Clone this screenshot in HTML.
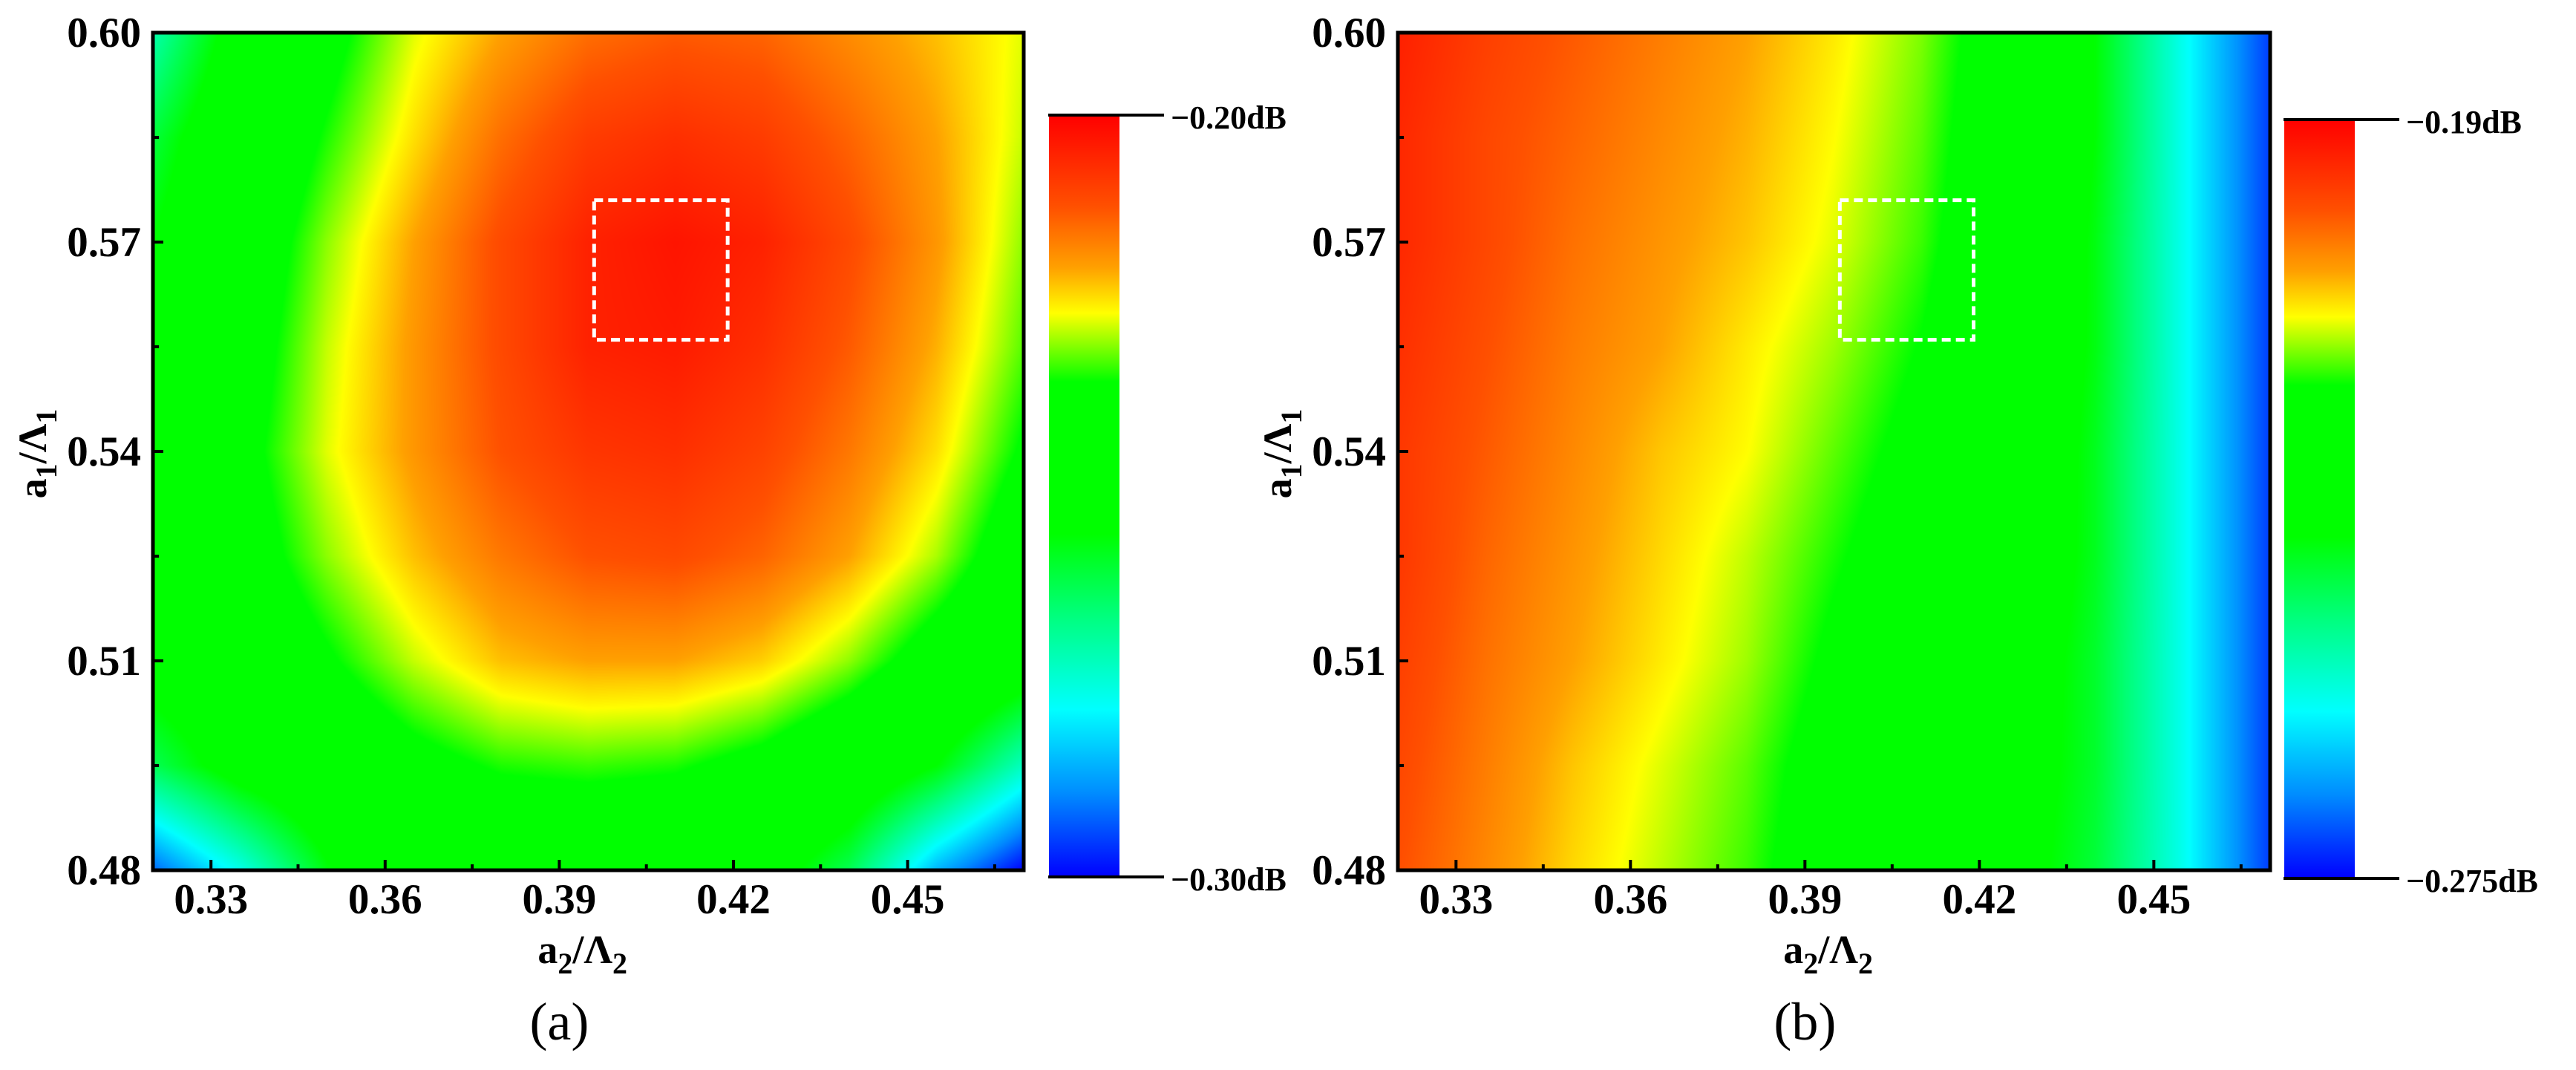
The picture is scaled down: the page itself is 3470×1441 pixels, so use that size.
<!DOCTYPE html>
<html><head><meta charset="utf-8">
<style>
html,body{margin:0;padding:0;background:#fff;}
body{width:3470px;height:1441px;position:relative;overflow:hidden;font-family:"Liberation Serif",serif;}
canvas{position:absolute;}
svg{position:absolute;left:0;top:0;}
</style></head>
<body>
<canvas id="hmA" width="1173" height="1128" style="left:206px;top:44px"></canvas>
<canvas id="hmB" width="1175" height="1128" style="left:1883px;top:44px"></canvas>
<svg id="ov" width="3470" height="1441"></svg>
<script>
// ---- data ----
const xCats = [0.32,0.335,0.35,0.365,0.38,0.395,0.41,0.425,0.44,0.455,0.47];
const yCats = [0.60,0.585,0.57,0.555,0.54,0.525,0.51,0.495,0.48];
const xTicks = [0.33,0.36,0.39,0.42,0.45];
const yTicks = [0.48,0.51,0.54,0.57,0.60];
const xTickLabels = ["0.33","0.36","0.39","0.42","0.45"];
const yTickLabels = ["0.48","0.51","0.54","0.57","0.60"];
// panel (a): loss in dB, range -0.30 .. -0.20
const rangeA = [-0.30,-0.20];
const valuesA = [
 [-0.270,-0.250,-0.238,-0.227,-0.220,-0.215,-0.213,-0.214,-0.218,-0.222,-0.227],
 [-0.260,-0.245,-0.234,-0.224,-0.215,-0.209,-0.207,-0.209,-0.214,-0.220,-0.228],
 [-0.255,-0.242,-0.230,-0.220,-0.211,-0.205,-0.203,-0.205,-0.211,-0.219,-0.230],
 [-0.250,-0.240,-0.228,-0.219,-0.211,-0.205,-0.204,-0.207,-0.213,-0.221,-0.232],
 [-0.247,-0.238,-0.227,-0.219,-0.212,-0.208,-0.207,-0.210,-0.216,-0.224,-0.236],
 [-0.247,-0.240,-0.230,-0.222,-0.216,-0.212,-0.211,-0.214,-0.220,-0.229,-0.242],
 [-0.250,-0.244,-0.236,-0.228,-0.222,-0.220,-0.220,-0.223,-0.230,-0.240,-0.248],
 [-0.262,-0.250,-0.244,-0.238,-0.234,-0.233,-0.234,-0.238,-0.245,-0.255,-0.272],
 [-0.292,-0.276,-0.256,-0.248,-0.245,-0.245,-0.246,-0.250,-0.262,-0.285,-0.300]
];
// panel (b): loss in dB, range -0.275 .. -0.19
const rangeB = [-0.275,-0.19];
const valuesB = [
 [-0.194,-0.198,-0.201,-0.204,-0.207,-0.211,-0.216,-0.224,-0.237,-0.255,-0.271],
 [-0.195,-0.199,-0.202,-0.205,-0.208,-0.212,-0.217,-0.225,-0.237,-0.255,-0.271],
 [-0.195,-0.199,-0.203,-0.206,-0.209,-0.213,-0.218,-0.226,-0.238,-0.255,-0.271],
 [-0.196,-0.200,-0.204,-0.207,-0.211,-0.215,-0.220,-0.227,-0.238,-0.255,-0.271],
 [-0.197,-0.201,-0.205,-0.209,-0.212,-0.217,-0.222,-0.228,-0.239,-0.255,-0.271],
 [-0.197,-0.202,-0.206,-0.210,-0.214,-0.219,-0.224,-0.229,-0.239,-0.255,-0.271],
 [-0.198,-0.203,-0.207,-0.211,-0.215,-0.221,-0.225,-0.231,-0.240,-0.255,-0.271],
 [-0.199,-0.204,-0.209,-0.213,-0.217,-0.223,-0.227,-0.232,-0.240,-0.255,-0.271],
 [-0.200,-0.205,-0.210,-0.214,-0.218,-0.224,-0.228,-0.233,-0.241,-0.255,-0.271]
];
const boxX = [0.396,0.419];
const boxY = [0.556,0.576];

// ---- colormap (style) ----
const stops = [[0,[255,0,0]],[0.12,[255,80,0]],[0.2,[255,160,0]],[0.26,[255,255,0]],[0.35,[0,255,0]],[0.55,[0,255,0]],[0.66,[0,255,128]],[0.78,[0,255,255]],[0.89,[0,140,255]],[1,[0,0,255]]];
function cmap(t){t=Math.max(0,Math.min(1,t));for(let i=1;i<stops.length;i++){if(t<=stops[i][0]){const a=stops[i-1],b=stops[i];const f=(t-a[0])/(b[0]-a[0]);return a[1].map((c,k)=>c+(b[1][k]-c)*f);}}return stops[stops.length-1][1];}

function drawHeat(id,vals,range){
 const cv=document.getElementById(id),ctx=cv.getContext('2d');const W=cv.width,H=cv.height;
 const img=ctx.createImageData(W,H);const nx=xCats.length,ny=yCats.length;
 const x0=xCats[0],x1=xCats[nx-1],y0=yCats[0],y1=yCats[ny-1];
 for(let py=0;py<H;py++){const yv=y0+(y1-y0)*py/(H-1);const fy=(yv-y0)/(y1-y0)*(ny-1);const j=Math.min(ny-2,Math.floor(fy)),v=fy-j;
  for(let px=0;px<W;px++){const xv=x0+(x1-x0)*px/(W-1);const fx=(xv-x0)/(x1-x0)*(nx-1);const i=Math.min(nx-2,Math.floor(fx)),u=fx-i;
   const val=(vals[j][i]*(1-u)+vals[j][i+1]*u)*(1-v)+(vals[j+1][i]*(1-u)+vals[j+1][i+1]*u)*v;
   const t=(range[1]-val)/(range[1]-range[0]);const c=cmap(t);const o=(py*W+px)*4;
   img.data[o]=c[0];img.data[o+1]=c[1];img.data[o+2]=c[2];img.data[o+3]=255;}}
 ctx.putImageData(img,0,0);
}
drawHeat('hmA',valuesA,rangeA);
drawHeat('hmB',valuesB,rangeB);

const NS='http://www.w3.org/2000/svg';const ov=document.getElementById('ov');
function mk(tag,attrs,parent){const e=document.createElementNS(NS,tag);for(const k in attrs)e.setAttribute(k,attrs[k]);(parent||ov).appendChild(e);return e;}

const defs=mk('defs',{});const lg=mk('linearGradient',{id:'cb',x1:0,y1:0,x2:0,y2:1},defs);
stops.forEach(s=>mk('stop',{offset:s[0],'stop-color':'rgb('+s[1].map(Math.round).join(',')+')'},lg));

function panel(p){
 const L=p.left,T=44,W=p.w,H=1128;
 const sx=v=>L+(v-0.32)/0.15*W, sy=v=>T+(0.60-v)/0.12*H;
 const g=mk('g',{});
 
 
 xTicks.forEach((v,i)=>{
  const t=mk('line',{x1:sx(v),x2:sx(v),y1:T+H,y2:T+H-14,stroke:'#000','stroke-width':4},g);
  
  
  const m=mk('line',{x1:sx(v+0.015),x2:sx(v+0.015),y1:T+H,y2:T+H-8,stroke:'#000','stroke-width':4},g);
  
  
  const lb=mk('text',{x:sx(v),y:1230,'text-anchor':'middle','font-size':57,'font-weight':'bold','font-family':'Liberation Serif, serif'},g);
  lb.textContent=xTickLabels[i];
  
  
 });
 yTicks.forEach((v,i)=>{
  const t=mk('line',{x1:L,x2:L+14,y1:sy(v),y2:sy(v),stroke:'#000','stroke-width':4},g);
  
  
  if(v<0.6){const m=mk('line',{x1:L,x2:L+8,y1:sy(v+0.015),y2:sy(v+0.015),stroke:'#000','stroke-width':4},g);
  
  }
  const lb=mk('text',{x:L-16,y:sy(v)+19,'text-anchor':'end','font-size':57,'font-weight':'bold','font-family':'Liberation Serif, serif'},g);
  lb.textContent=yTickLabels[i];
  
  
 });
 const fr=mk('rect',{x:L,y:T,width:W,height:H,fill:'none',stroke:'#000','stroke-width':5},g);
 
 
 const bx=mk('rect',{x:sx(boxX[0]),y:sy(boxY[1]),width:sx(boxX[1])-sx(boxX[0]),height:sy(boxY[0])-sy(boxY[1]),fill:'none',stroke:'#fff','stroke-width':5,'stroke-dasharray':'12,7'},g);
 
 
 const xt=mk('text',{x:sx(0.394),y:1297,'text-anchor':'middle','font-size':54,'font-weight':'bold','font-family':'Liberation Serif, serif'},g);
 xt.innerHTML='a<tspan dy="14" font-size="40">2</tspan><tspan dy="-14">/Λ</tspan><tspan dy="14" font-size="40">2</tspan>';
 
 
 const yt=mk('text',{x:0,y:0,'text-anchor':'middle','font-size':54,'font-weight':'bold','font-family':'Liberation Serif, serif',transform:'translate('+(p.ytx)+',611) rotate(-90)'},g);
 yt.innerHTML='a<tspan dy="14" font-size="40">1</tspan><tspan dy="-14">/Λ</tspan><tspan dy="14" font-size="40">1</tspan>';
 
 
 const cap=mk('text',{x:sx(0.39),y:1400,'text-anchor':'middle','font-size':72,'font-family':'Liberation Serif, serif'},g);
 cap.textContent=p.caption;
 
 
 const cb=mk('rect',{x:p.cbx,y:p.cbt,width:95,height:p.cbb-p.cbt,fill:'url(#cb)'},g);
 
 
 [[p.cbt,p.top],[p.cbb,p.bot]].forEach(([y,txt],k)=>{
  const l=mk('line',{x1:p.cbx-1,x2:p.cbx+155,y1:y,y2:y,stroke:'#000','stroke-width':4},g);
  
  
  const t=mk('text',{x:p.cbx+164,y:y+18,'font-size':44,'font-weight':'bold','font-family':'Liberation Serif, serif'},g);
  t.textContent=txt;
  
  
 });
}
panel({name:'panel-a',left:206,w:1173,ytx:62,caption:'(a)',cbx:1413,cbt:155,cbb:1181,top:'−0.20dB',bot:'−0.30dB'});
panel({name:'panel-b',left:1883,w:1175,ytx:1739,caption:'(b)',cbx:3077,cbt:161,cbb:1183,top:'−0.19dB',bot:'−0.275dB'});
</script>
</body></html>
